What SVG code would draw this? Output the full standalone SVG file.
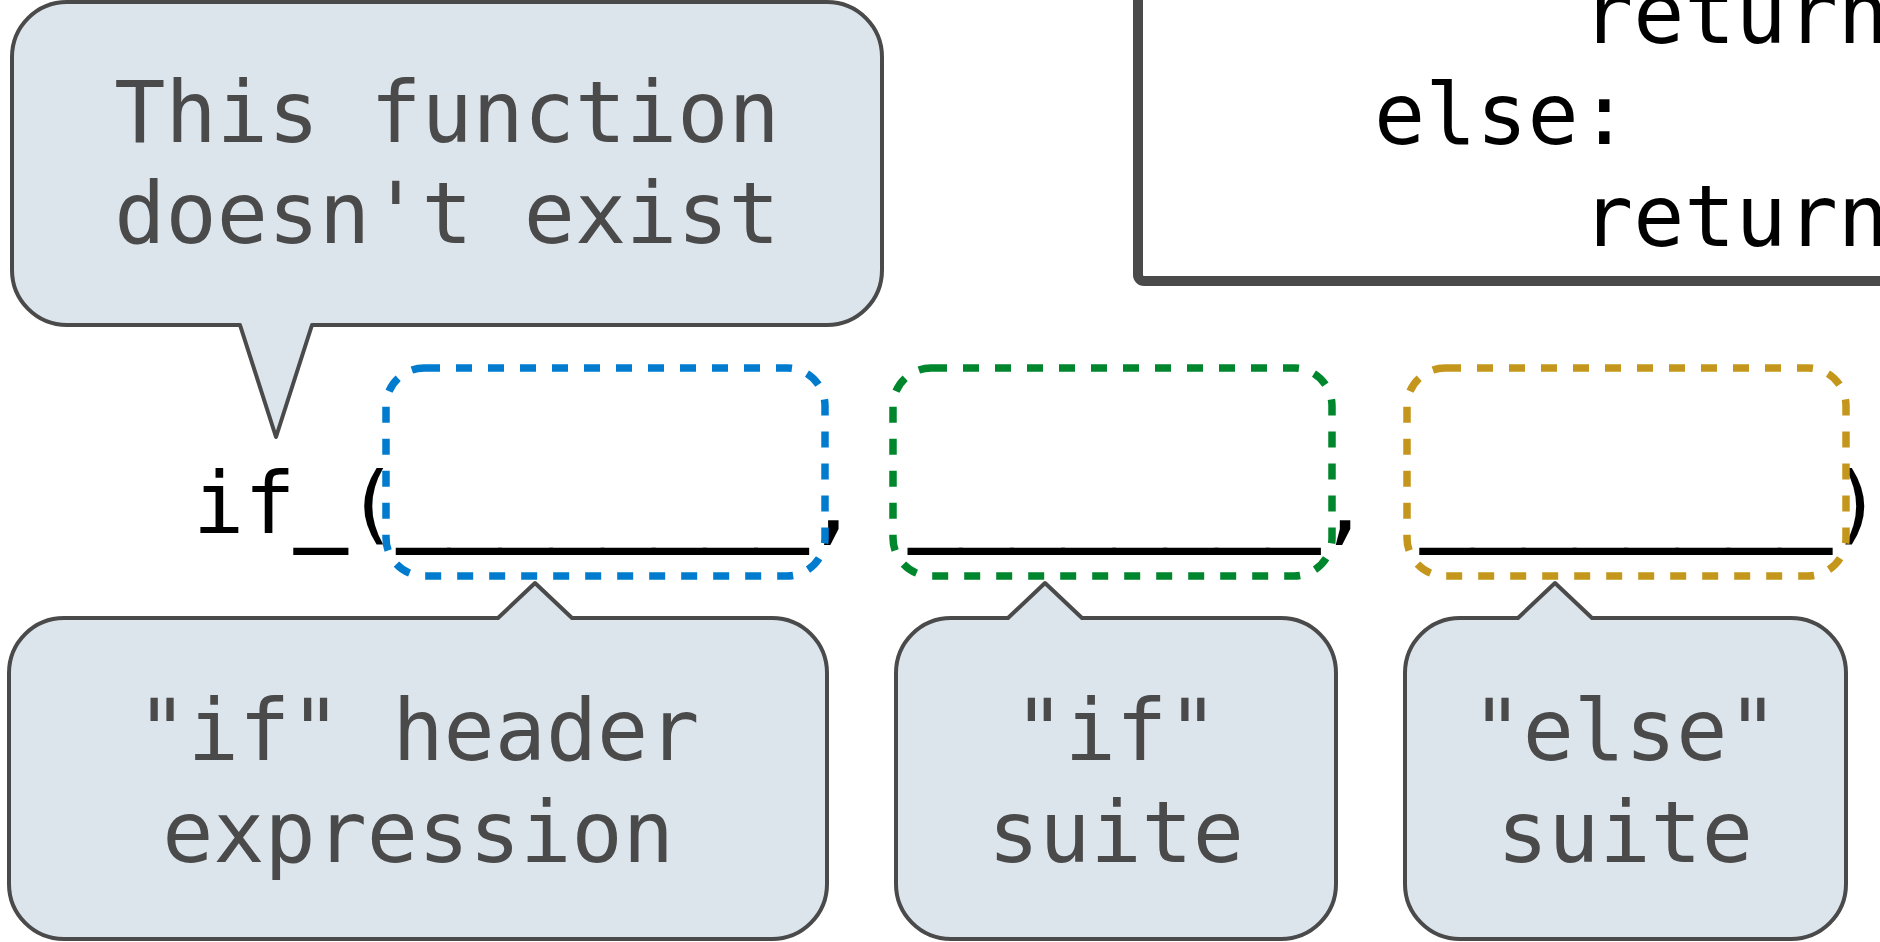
<svg xmlns="http://www.w3.org/2000/svg" width="1880" height="942" viewBox="0 0 1880 942">
  <style>
    .mono { font-family: "DejaVu Sans Mono", "Liberation Mono", monospace; font-size: 85px; }
    .code { fill: #000000; }
    .blank { stroke: #000000; stroke-width: 4; }
    .note { fill: #4a4a4a; text-anchor: middle; }
    .bubble { fill: #dce4ec; stroke: #4a4a4a; stroke-width: 4; stroke-linejoin: round; }
    .slot { fill: none; stroke-width: 7.5; stroke-dasharray: 16 16; }
  </style>
  <rect width="1880" height="942" fill="#ffffff"/>

  <!-- function definition shown in the corner -->
  <g id="code-box">
    <rect x="1138" y="-120" width="900" height="401" rx="6" fill="none" stroke="#4a4a4a" stroke-width="10"/>
    <text class="mono code" x="1582" y="43">return</text>
    <text class="mono code" x="1374" y="144">else:</text>
    <text class="mono code" x="1582" y="246">return</text>
  </g>

  <!-- the call expression with its three blanks -->
  <g id="call-expr">
    <text class="mono code" x="193" y="533" xml:space="preserve">if<tspan class="blank">_</tspan>(<tspan class="blank">________</tspan>, <tspan class="blank">________</tspan>, <tspan class="blank">________</tspan>)</text>
  </g>

  <g id="slots">
    <rect id="slot-header" class="slot" x="386" y="368" width="439" height="208" rx="38" stroke="#007bce"/>
    <rect id="slot-if" class="slot" x="893" y="368" width="439" height="208" rx="38" stroke="#00872d"/>
    <rect id="slot-else" class="slot" x="1407" y="368" width="439" height="208" rx="38" stroke="#c4961c"/>
  </g>

  <g id="note-missing">
    <path class="bubble" d="M67,2 H827 A55,55 0 0 1 882,57 V270 A55,55 0 0 1 827,325 H312 L276,437 L240,325 H67 A55,55 0 0 1 12,270 V57 A55,55 0 0 1 67,2 Z"/>
    <text class="mono note" x="447" y="142">This function</text>
    <text class="mono note" x="447" y="243">doesn't exist</text>
  </g>

  <g id="note-header">
    <path class="bubble" d="M64,618 H498 L535,583 L572,618 H772 A55,55 0 0 1 827,673 V884 A55,55 0 0 1 772,939 H64 A55,55 0 0 1 9,884 V673 A55,55 0 0 1 64,618 Z"/>
    <text class="mono note" x="418" y="760">"if" header</text>
    <text class="mono note" x="418" y="862">expression</text>
  </g>

  <g id="note-if-suite">
    <path class="bubble" d="M951,618 H1008 L1045,583 L1082,618 H1281 A55,55 0 0 1 1336,673 V884 A55,55 0 0 1 1281,939 H951 A55,55 0 0 1 896,884 V673 A55,55 0 0 1 951,618 Z"/>
    <text class="mono note" x="1116" y="760">"if"</text>
    <text class="mono note" x="1116" y="862">suite</text>
  </g>

  <g id="note-else-suite">
    <path class="bubble" d="M1460,618 H1518 L1555,583 L1592,618 H1791 A55,55 0 0 1 1846,673 V884 A55,55 0 0 1 1791,939 H1460 A55,55 0 0 1 1405,884 V673 A55,55 0 0 1 1460,618 Z"/>
    <text class="mono note" x="1625" y="760">"else"</text>
    <text class="mono note" x="1625" y="862">suite</text>
  </g>
</svg>
